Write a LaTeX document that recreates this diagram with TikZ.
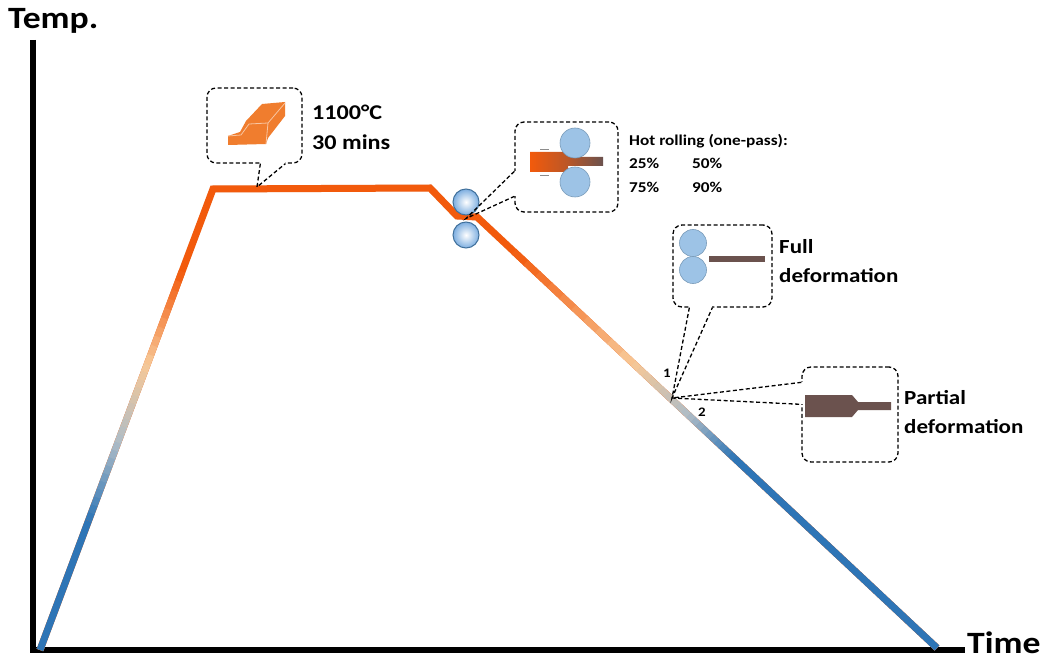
\documentclass[tikz,border=0pt]{standalone}
\usepackage{fontspec}
\setmainfont{Carlito}[FakeStretch=1.15]
\usepackage{xcolor}
\usetikzlibrary{calc}

\definecolor{heatorange}{HTML}{F25A0C}
\definecolor{coolblue}{HTML}{2E75B6}
\definecolor{peach}{HTML}{F7C897}
\definecolor{steel}{HTML}{AEBCC6}
\definecolor{rollfill}{HTML}{9DC3E6}
\definecolor{rollball}{HTML}{7DAEE0}
\definecolor{rolledge}{HTML}{41719C}
\definecolor{stripbrown}{HTML}{6B524E}
\definecolor{blockorange}{HTML}{F07D2E}

% colour ramp along a straight piece of the curve: from, to, start colour, end colour
\newcommand{\coolfade}[4]{%
	\foreach \k in {0,...,9}{%
		\pgfmathtruncatemacro{\mix}{5+10*\k}%
		\draw[curve, draw=#4!\mix!#3] ($(#1)!\k/10!(#2)$) -- ($(#1)!\k/10+0.105!(#2)$);
	}}

\begin{document}
\begin{tikzpicture}[
	x=1pt, y=-1pt,
	axis/.style={line width=5.5pt, black},
	haze/.style={line width=6pt, black!10},
	curve/.style={line width=7pt, line cap=butt, line join=miter},
	bubble/.style={draw, line width=1.3pt, dash pattern=on 4pt off 2.5pt,
		rounded corners=9pt, fill=white, inner sep=0pt},
	tail/.style={line width=1.3pt, dash pattern=on 4pt off 2.5pt},
	gap/.style={white, line width=3pt},
	roller/.style={circle, draw=rolledge, line width=1pt, inner sep=0pt,
		minimum size=26pt, inner color=white, outer color=rollball},
	pinch/.style={circle, fill=rollfill, draw=rolledge!70, line width=0.6pt,
		inner sep=0pt},
	axlbl/.style={anchor=west, inner sep=0pt, font=\bfseries\fontsize{31}{36}\selectfont},
	lbl/.style={anchor=west, align=left, inner sep=0pt, font=\bfseries\fontsize{20}{29}\selectfont},
	small/.style={inner sep=0pt, font=\bfseries\fontsize{13}{14}\selectfont}
	]
	\useasboundingbox (0,0) rectangle (1046,660);
	
	%--- axes ------------------------------------------------------------------
	\coordinate (origin) at (33,650);
	\coordinate (ytop) at (33,40);
	\coordinate (xend) at (965,650);
	\draw[haze, shift={(3,3)}] (ytop) -- (origin) -- (xend);
	\draw[axis] (ytop) -- (origin) -- (xend);
	\node[axlbl] (temp) at (8,21) {Temp.};
	\node[axlbl] (time) at (967,643) {Time};
	
	%--- temperature path ------------------------------------------------------
	\coordinate (start) at (40,650);
	\coordinate (heatup) at (213,189);
	\coordinate (holdend) at (430,188);
	\coordinate (rollin) at (457,216);
	\coordinate (rollout) at (477,217);
	\coordinate (finish) at (937,648);
	
	\draw[haze, line width=7pt, black!8, shift={(2,3)}]
	(start) -- (heatup) -- (holdend) -- (rollin) -- (rollout) -- (finish);
	\draw[curve, heatorange]
	(start) -- (heatup) -- (holdend) -- (rollin) -- (rollout) -- (finish);
	
	% heating ramp
	\coordinate (u1) at ($(start)!0.28!(heatup)$);
	\coordinate (u2) at ($(start)!0.45!(heatup)$);
	\coordinate (u3) at ($(start)!0.62!(heatup)$);
	\coordinate (u4) at ($(start)!0.82!(heatup)$);
	\draw[curve, coolblue] (start) -- (u1);
	\coolfade{u1}{u2}{coolblue}{steel}
	\coolfade{u2}{u3}{steel}{peach}
	\coolfade{u3}{u4}{peach}{heatorange}
	
	% cooling ramp
	\coordinate (d1) at ($(rollout)!0.08!(finish)$);
	\coordinate (d2) at ($(rollout)!0.34!(finish)$);
	\coordinate (d3) at ($(rollout)!0.46!(finish)$);
	\coordinate (d4) at ($(rollout)!0.56!(finish)$);
	\coolfade{d1}{d2}{heatorange}{peach}
	\coolfade{d2}{d3}{peach}{steel}
	\coolfade{d3}{d4}{steel}{coolblue}
	\draw[curve, coolblue] (d4) -- (finish);
	
	% rolls on the path
	\node[roller] (rolltop) at (466,202) {};
	\node[roller] (rollbot) at (466,235) {};
	
	%--- soaking ---------------------------------------------------------------
	\node[bubble, minimum width=95pt, minimum height=75pt] (heat) at (254.5,125.5) {};
	\fill[blockorange] (228,136) -- (240,132) -- (246,121) -- (262,104) -- (285,102)
	-- (285,116) -- (268,138) -- (266,144) -- (228,145) -- cycle;
	\draw[blockorange!45!white, line width=0.8pt]
	(228,136) -- (241,135) -- (249,124) -- (268,123) -- (285,103)
	(268,123) -- (266,144);
	\node[lbl, font=\bfseries\fontsize{21}{30}\selectfont] (heattxt) at (312,127)
	{1100°C\\30 mins};
	\coordinate (heattip) at (257,187);
	\coordinate (h1) at ($(heat.south west)+(54,0)$);
	\coordinate (h2) at ($(heat.south west)+(79,0)$);
	\draw[gap] (h1) -- (h2);
	\draw[tail] (h1) -- (heattip) -- (h2);
	
	%--- hot rolling -----------------------------------------------------------
	\node[bubble, minimum width=103pt, minimum height=90pt] (roll) at (566.5,167) {};
	\shade[left color=heatorange, right color=stripbrown, middle color=heatorange!60!stripbrown]
	(530,152) -- (568,152) -- (568,157) -- (603,157) -- (603,166) -- (568,166)
	-- (568,172) -- (530,172) -- cycle;
	\draw[black!45, line width=0.6pt] (540,149) -- (549,149) (540,175) -- (549,175);
	\node[pinch, minimum size=30pt] (rt) at (575,143) {};
	\node[pinch, minimum size=30pt] (rb) at (575,182) {};
	\node[lbl, font=\bfseries\fontsize{15}{23.5}\selectfont] (rolltxt) at (629,163)
	{Hot rolling (one-pass):\\\makebox[63pt][l]{25\%}50\%\\\makebox[63pt][l]{75\%}90\%};
	\coordinate (rolltip) at ($(rolltop)!0.5!(rollbot)$);
	\coordinate (r1) at ($(roll.north west)+(0,50)$);
	\coordinate (r2) at ($(roll.north west)+(0,75)$);
	\draw[gap] (r1) -- (r2);
	\draw[tail] (r1) -- (rolltip) -- (r2);
	
	%--- full / partial deformation --------------------------------------------
	\coordinate (cuttip) at (672,398);
	\node[bubble, minimum width=99pt, minimum height=82pt] (full) at (722.5,266) {};
	\node[pinch, minimum size=27pt] (ft) at (693,243) {};
	\node[pinch, minimum size=27pt] (fb) at (693,270) {};
	\fill[stripbrown] (709,256) rectangle (765,262);
	\node[lbl] (fulltxt) at (779,261) {Full\\deformation};
	\coordinate (f1) at ($(full.south west)+(17,0)$);
	\coordinate (f2) at ($(full.south west)+(40,0)$);
	\draw[gap] (f1) -- (f2);
	\draw[tail] (f1) -- (cuttip) -- (f2);
	\node[small] (one) at (667,373) {1};
	
	\node[bubble, minimum width=96pt, minimum height=95pt] (part) at (850,414.5) {};
	\fill[stripbrown] (805,395) -- (852,395) -- (858,402) -- (891,402) -- (891,410)
	-- (858,410) -- (852,417) -- (805,417) -- cycle;
	\node[lbl] (parttxt) at (904,412) {Partial\\deformation};
	\coordinate (p1) at ($(part.north west)+(0,16)$);
	\coordinate (p2) at ($(part.north west)+(0,38)$);
	\draw[gap] (p1) -- (p2);
	\draw[tail] (p1) -- (cuttip) -- (p2);
	\node[small] (two) at (702,412) {2};
\end{tikzpicture}
\end{document}
